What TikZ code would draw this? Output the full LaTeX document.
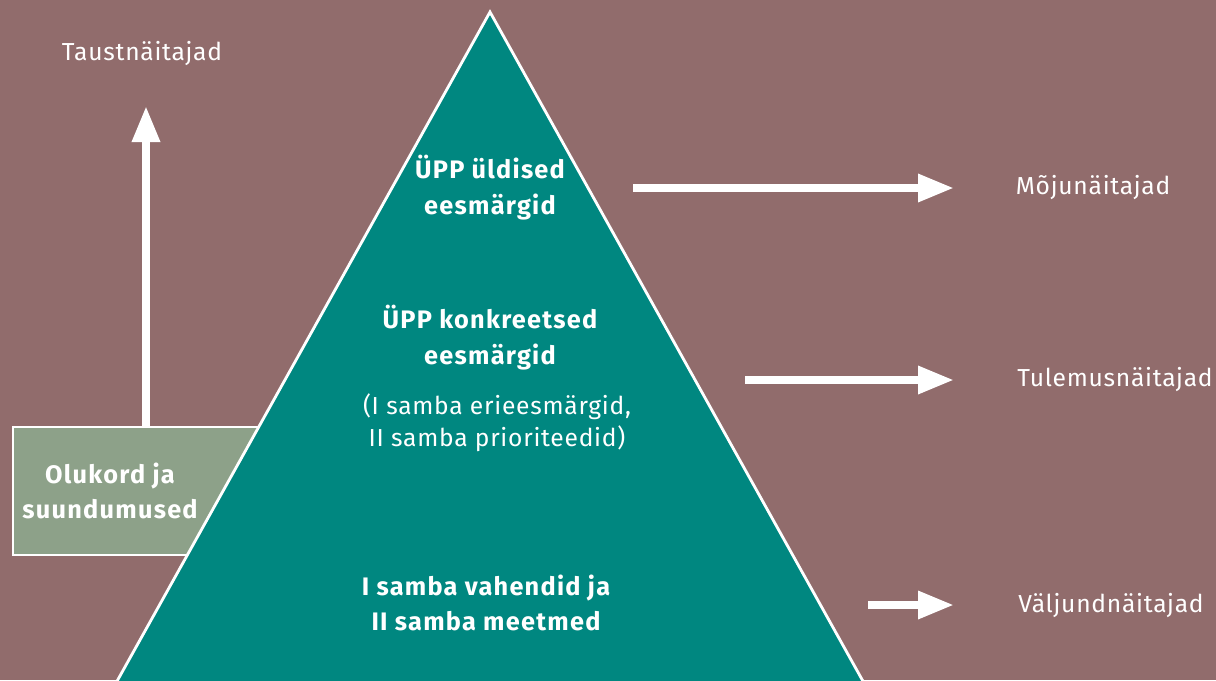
\documentclass[tikz,border=0pt]{standalone}
\usepackage{fontspec}
\setmainfont{Fira Sans}[LetterSpace=3]
\newfontfamily\fettfont{Fira Sans}[LetterSpace=5]
\usetikzlibrary{arrows.meta,positioning}
\definecolor{bgmauve}{RGB}{145,108,108}
\definecolor{pyrteal}{RGB}{0,135,128}
\definecolor{boxgreen}{RGB}{141,161,137}

\tikzset{
  lbl/.style={white, align=center, font=\fontsize{17.5}{23}\selectfont},
  fett/.style={white, align=center, font=\fontsize{18}{25.5}\selectfont\fettfont\bfseries},
  pfeil/.style={-{Triangle[length=0.9cm,width=0.66cm]}, line width=0.2cm, white}
}

\begin{document}
\begin{tikzpicture}[x=0.025cm,y=-0.025cm]
\useasboundingbox (0,0) rectangle (1216,680);
\fill[bgmauve] (0,0) rectangle (1216,680);

% box on the left, partly under the pyramid
\node[draw=white, line width=0.06cm, fill=boxgreen, minimum width=6.25cm, minimum height=3.2cm, anchor=north west] (lage) at (12,426) {};
\node[fett] (olukord) at (110,491) {Olukord ja\\suundumused};

% pyramid
\draw[white, line width=0.07cm, fill=pyrteal] (490,12) -- (111,692) -- (869,692) -- cycle;

\node[fett] (uldised) at (490,188) {ÜPP üldised\\eesmärgid};
\node[fett] (konkr) at (490,338) {ÜPP konkreetsed\\eesmärgid};
\node[lbl] (prior) at (497,423) {(I samba erieesmärgid,\\II samba prioriteedid)};
\node[fett] (vahend) at (486,603) {I samba vahendid ja\\II samba meetmed};

% indicators
\node[lbl] (taust) at (142,54) {Taustnäitajad};
\node[lbl] (moju) at (1093,188) {Mõjunäitajad};
\node[lbl] (tulem) at (1115,380) {Tulemusnäitajad};
\node[lbl] (valj) at (1111,605) {Väljundnäitajad};

\coordinate (u0) at (146,426);
\coordinate (u1) at (146,106);
\coordinate (s1) at (633,188);
\coordinate (e1) at (954,188);
\coordinate (s2) at (745,380);
\coordinate (e2) at (954,380);
\coordinate (s3) at (868,605);
\coordinate (e3) at (954,605);

\draw[pfeil] (u0) -- (u1);
\draw[pfeil] (s1) -- (e1);
\draw[pfeil] (s2) -- (e2);
\draw[pfeil] (s3) -- (e3);
\end{tikzpicture}
\end{document}
